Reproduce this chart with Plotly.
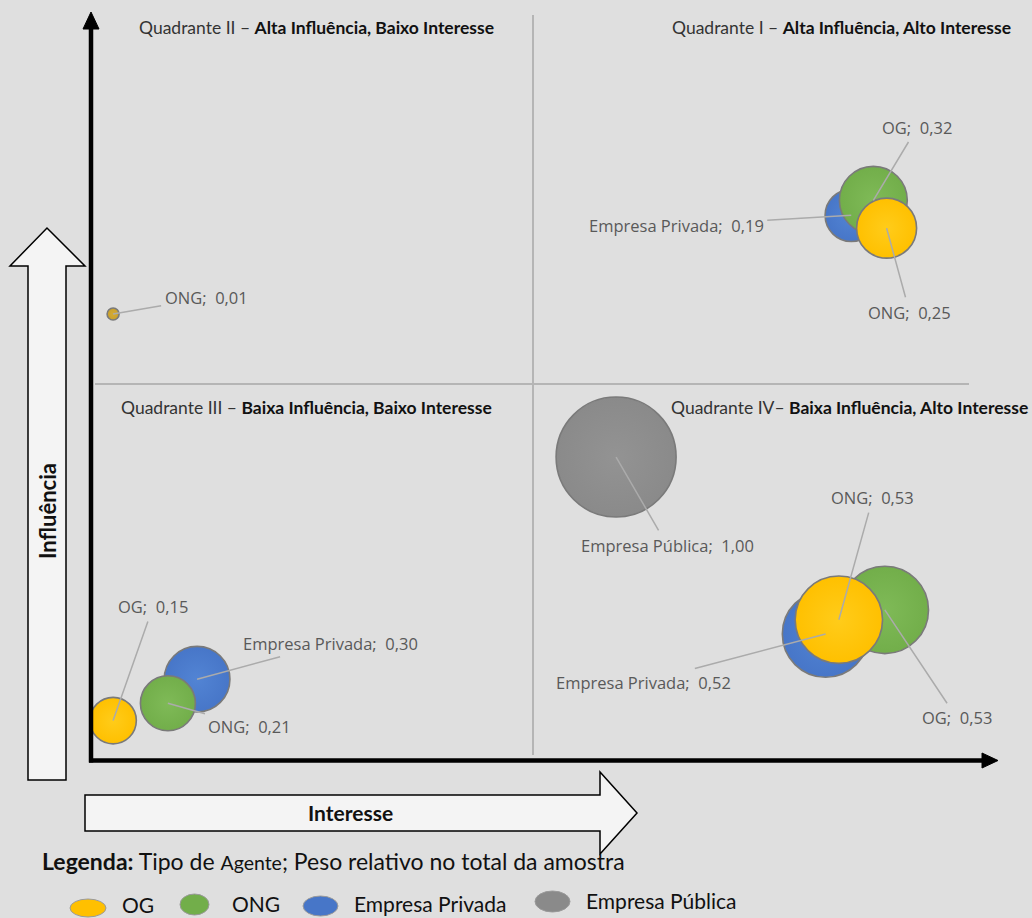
import plotly.graph_objects as go

# ---------------- data ----------------
rotulos = ["Empresa Pública", "Empresa Privada", "OG", "ONG", "ONG",
           "Empresa Privada", "ONG", "OG", "Empresa Privada", "OG", "ONG"]
pesos = [1.00, 0.19, 0.32, 0.25, 0.01, 0.30, 0.21, 0.15, 0.52, 0.53, 0.53]
interesse = [5.94, 8.60, 8.85, 9.00, 0.25, 1.20, 0.87, 0.25, 8.31, 8.98, 8.46]
influencia = [4.03, 7.24, 7.44, 7.07, 5.93, 1.08, 0.76, 0.53, 1.68, 2.00, 1.87]
grupo_cor = ["Empresa Pública", "Empresa Privada", "ONG", "OG", "OG_peq",
             "Empresa Privada", "ONG", "OG", "Empresa Privada", "ONG", "OG"]

quadrantes = [
    ("Quadrante II – ", "Alta Influência, Baixo Interesse"),
    ("Quadrante I – ", "Alta Influência, Alto Interesse"),
    ("Quadrante III – ", "Baixa Influência, Baixo Interesse"),
    ("Quadrante IV– ", "Baixa Influência, Alto Interesse"),
]
legenda_itens = ["OG", "ONG", "Empresa Privada", "Empresa Pública"]
eixo_x_titulo = "Interesse"
eixo_y_titulo = "Influência"

# ---------------- style ----------------
W, H = 1032, 918
XMIN, XMAX = -1.0294, 10.6448
YMIN, YMAX = -2.0916, 10.100
BG = "#dfdfdf"
cores = {"OG": "#ffc000", "ONG": "#72ae4a", "Empresa Privada": "#4776c8",
         "Empresa Pública": "#8a8a8a", "OG_peq": "#c9a02c"}
cores_centro = {"OG": "#ffcc1a", "ONG": "#7fba57", "Empresa Privada": "#5284d4",
                "Empresa Pública": "#939393", "OG_peq": "#d4ab35"}
LBL_FONT = "Open Sans"
TXT_FONT = "Lato"

# label offsets (pixels, text center relative to bubble center)
offsets = [(51, 88), (-175, 10), (44, -73), (23, 84), (93, -16),
           (133, -36), (82, 23), (40, -114), (-182, 48), (72, 108), (34, -122)]


def px(x):
    return x / W


def py(y):
    return 1 - y / H


fig = go.Figure()

fig.add_trace(go.Scatter(
    x=interesse, y=influencia, mode="markers",
    marker=dict(
        size=pesos, sizemode="area", sizeref=1 / 7200,
        color=[cores[g] for g in grupo_cor],
        gradient=dict(type="radial", color=[cores_centro[g] for g in grupo_cor]),
        line=dict(color="#7a7a7a", width=1.6), opacity=1,
    ),
    hoverinfo="skip", showlegend=False,
))

annotations = []
for r, p, xv, yv, (dx, dy) in zip(rotulos, pesos, interesse, influencia, offsets):
    txt = f"{r}; \u00a0{p:.2f}".replace(".", ",")
    annotations.append(dict(
        x=xv, y=yv, xref="x", yref="y", text=txt, showarrow=True,
        ax=dx, ay=dy, arrowhead=0, arrowwidth=1.5, arrowcolor="#ababab",
        standoff=0, startstandoff=2,
        font=dict(family=LBL_FONT, size=16.5, color="#595959"),
    ))

# quadrant titles
qpos = [(316, 27), (841, 27), (306, 407), (849, 407)]
for (reg, bold), (qx, qy) in zip(quadrantes, qpos):
    annotations.append(dict(
        x=px(qx), y=py(qy), xref="paper", yref="paper", showarrow=False,
        text=f"<span style='color:#333333'>{reg}</span><b>{bold}</b>",
        font=dict(family=TXT_FONT, size=17.5, color="#111111"),
        xanchor="center", yanchor="middle",
    ))

# axis names on white arrows
annotations.append(dict(
    x=px(350), y=py(812), xref="paper", yref="paper", showarrow=False,
    xanchor="center", yanchor="middle",
    text=f"<b>{eixo_x_titulo}</b>", font=dict(family=TXT_FONT, size=21, color="#111111"),
))
annotations.append(dict(
    x=px(47), y=py(511), xref="paper", yref="paper", showarrow=False, textangle=-90,
    xanchor="center", yanchor="middle",
    text=f"<b>{eixo_y_titulo}</b>", font=dict(family=TXT_FONT, size=22, color="#111111"),
))

# legend title
annotations.append(dict(
    x=px(40), y=py(861), xref="paper", yref="paper", showarrow=False,
    xanchor="left", yanchor="middle",
    text="<b>Legenda:</b> Tipo de <span style='font-size:19.5px'>Agente</span>; Peso relativo no total da amostra",
    font=dict(family=TXT_FONT, size=23, color="#111111"),
))

# legend items
leg_sym = [(70, 106, 899, 917, "OG"), (180, 209, 894, 915, "ONG"),
           (303, 338, 896, 916, "Empresa Privada"), (535, 570, 891, 912, "Empresa Pública")]
leg_txt = [(120, 904), (230, 903), (352, 903), (584, 900)]
shapes = []
for (x0, x1, y0, y1, key), (tx, ty), name in zip(leg_sym, leg_txt, legenda_itens):
    shapes.append(dict(type="circle", xref="paper", yref="paper",
                       x0=px(x0), x1=px(x1), y0=py(y1), y1=py(y0),
                       fillcolor=cores[key], line=dict(color="#9a9a9a", width=1)))
    annotations.append(dict(
        x=px(tx), y=py(ty), xref="paper", yref="paper", showarrow=False,
        xanchor="left", yanchor="middle", text=name,
        font=dict(family=TXT_FONT, size=21, color="#111111"),
    ))

# quadrant divider lines (data coords)
shapes.append(dict(type="line", xref="x", yref="y", x0=5, x1=5,
                   y0=(760.5 - 755) / 75.3, y1=(760.5 - 15) / 75.3, layer="below",
                   line=dict(color="#b5b5b5", width=2)))
shapes.append(dict(type="line", xref="x", yref="y", y0=5, y1=5,
                   x0=(95 - 91) / 88.4, x1=(969 - 91) / 88.4, layer="below",
                   line=dict(color="#b5b5b5", width=2)))

# black axis arrows
shapes.append(dict(type="line", xref="paper", yref="paper", x0=px(91), x1=px(91),
                   y0=py(762.5), y1=py(26), line=dict(color="black", width=4.5)))
shapes.append(dict(type="path", xref="paper", yref="paper",
                   path=f"M {px(83)} {py(29)} L {px(91)} {py(12)} L {px(99)} {py(29)} Z",
                   fillcolor="black", line=dict(color="black", width=1)))
shapes.append(dict(type="line", xref="paper", yref="paper", x0=px(89), x1=px(984),
                   y0=py(760.5), y1=py(760.5), line=dict(color="black", width=4.5)))
shapes.append(dict(type="path", xref="paper", yref="paper",
                   path=f"M {px(982)} {py(753)} L {px(998)} {py(760.5)} L {px(982)} {py(768)} Z",
                   fillcolor="black", line=dict(color="black", width=1)))

# white block arrows
up = [(28, 780), (28, 266), (10, 266), (47, 228), (85, 266), (66, 266), (66, 780)]
right = [(85, 795), (600, 795), (600, 772), (637, 813), (600, 854), (600, 831), (85, 831)]
for pts in (up, right):
    path = "M " + " L ".join(f"{px(a)} {py(b)}" for a, b in pts) + " Z"
    shapes.append(dict(type="path", xref="paper", yref="paper", path=path,
                       fillcolor="#f4f4f4", line=dict(color="black", width=1.5)))

fig.update_layout(
    width=W, height=H, margin=dict(l=0, r=0, t=0, b=0),
    paper_bgcolor=BG, plot_bgcolor=BG,
    xaxis=dict(range=[XMIN, XMAX], visible=False, fixedrange=True),
    yaxis=dict(range=[YMIN, YMAX], visible=False, fixedrange=True),
    shapes=shapes, annotations=annotations, showlegend=False,
)

fig.write_html(
    "out.html",
    config={"displayModeBar": False},
    post_script="document.body.style.margin='0';document.body.style.overflow='hidden';",
)
